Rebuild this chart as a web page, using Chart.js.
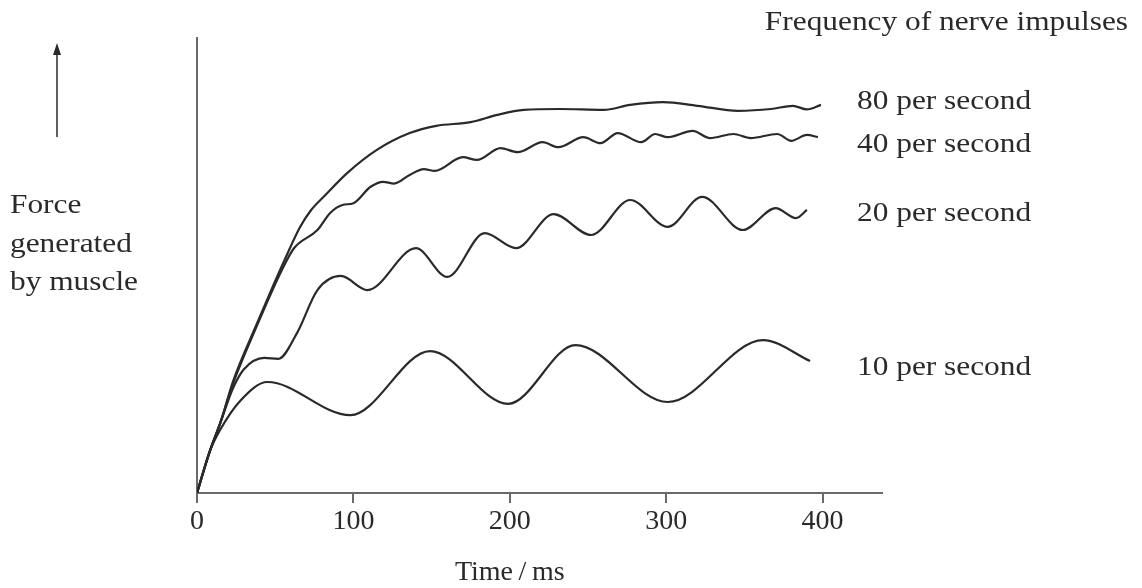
<!DOCTYPE html>
<html>
<head>
<meta charset="utf-8">
<script src="https://cdn.jsdelivr.net/npm/chart.js@4.4.1/dist/chart.umd.min.js"></script>
<style>
  html, body { margin: 0; padding: 0; background: #fff; }
</style>
</head>
<body>
<canvas id="chart" width="1142" height="588"></canvas>
<script>
// Force (arbitrary units, 0-100) against time (ms)
const t10 = [0, 8, 15, 28, 45, 98, 149, 199, 242, 301, 362, 392];
const f10 = [0, 9, 14, 20.4, 24.4, 17.1, 31.2, 19.6, 32.5, 20.0, 33.6, 29.0];

const t20 = [0, 8, 15, 23, 30, 43, 52, 64, 77, 92, 109, 140, 160, 184, 204, 228, 252, 277, 301, 323, 349, 370, 383, 390];
const f20 = [0, 9, 15.5, 23, 27.2, 29.7, 29.5, 35.2, 44.6, 47.7, 44.6, 53.8, 47.5, 57.1, 53.8, 61.3, 56.7, 64.4, 58.5, 65.1, 57.8, 62.6, 60.4, 62.2];

const t40 = [0, 8, 15, 23, 38, 48, 55, 62, 77, 85, 93, 100, 111, 119, 126, 136, 145, 152, 170, 179, 194, 205, 221, 231, 247, 258, 269, 284, 293, 301, 317, 328, 343, 354, 371, 380, 390, 397];
const f40 = [0, 9, 15.5, 24, 36.5, 44.4, 49.5, 53.8, 57.8, 61.5, 63.3, 63.7, 67.3, 68.4, 68.0, 69.9, 71.2, 70.8, 73.8, 73.2, 75.8, 74.9, 77.1, 76.0, 78.2, 76.9, 79.1, 77.1, 78.9, 78.2, 79.6, 78.0, 78.9, 78.0, 78.9, 77.4, 78.7, 78.2];

const t80 = [0, 8, 15, 23, 38, 48, 56, 66, 73, 81, 96, 115, 136, 153, 175, 192, 209, 232, 260, 277, 298, 320, 346, 367, 381, 390, 399];
const f80 = [0, 9, 15.5, 24.5, 37, 45, 51.2, 58.5, 62.2, 65.1, 70.3, 75.4, 79.1, 80.7, 81.5, 83.1, 84.2, 84.4, 84.2, 85.3, 85.9, 85.1, 84.0, 84.4, 85.1, 84.3, 85.3];

const seriesNames = ['80 per second', '40 per second', '20 per second', '10 per second'];
const xTicks = [0, 100, 200, 300, 400];

const INK = '#2a2a2a';
const AXIS = '#6a6a6a';
const SERIF = '"Liberation Serif", "Times New Roman", serif';
const STRETCH = 1.12; // the scanned lettering is a bit wider than Times

function pts(ts, fs) {
    return ts.map((t, i) => ({ x: t, y: fs[i] }));
}

function drawText(ctx, text, x, y, align) {
    ctx.save();
    ctx.translate(x, y);
    ctx.scale(STRETCH, 1);
    ctx.textAlign = align || 'left';
    ctx.textBaseline = 'alphabetic';
    ctx.fillText(text, 0, 0);
    ctx.restore();
}

const annotations = {
    id: 'annotations',
    afterDraw(chart) {
        const { ctx, chartArea, scales: { x, y } } = chart;
        ctx.save();
        ctx.fillStyle = INK;
        ctx.font = `28px ${SERIF}`;

        // curve labels, next to where each curve ends
        const nudge = [4, 15, 11, 14];
        chart.data.datasets.forEach((ds, i) => {
            const last = ds.data[ds.data.length - 1];
            drawText(ctx, ds.label, chartArea.right - 25, y.getPixelForValue(last.y) + nudge[i]);
        });

        drawText(ctx, 'Frequency of nerve impulses', 1128, 30, 'right');

        // y-axis caption and arrow
        drawText(ctx, 'Force', 10, 213);
        drawText(ctx, 'generated', 10, 252);
        drawText(ctx, 'by muscle', 10, 290);

        ctx.strokeStyle = INK;
        ctx.lineWidth = 1.5;
        ctx.beginPath();
        ctx.moveTo(57, 137);
        ctx.lineTo(57, 52);
        ctx.stroke();
        ctx.beginPath();
        ctx.moveTo(57, 43);
        ctx.lineTo(53, 55);
        ctx.lineTo(61, 55);
        ctx.closePath();
        ctx.fill();

        // x-axis title, centred under the 200 ms tick
        ctx.textAlign = 'center';
        ctx.textBaseline = 'alphabetic';
        ctx.fillText('Time\u2009/\u2009ms', x.getPixelForValue(200), 580);
        ctx.restore();
    }
};

const series = [pts(t80, f80), pts(t40, f40), pts(t20, f20), pts(t10, f10)];

new Chart(document.getElementById('chart'), {
    type: 'line',
    data: {
        datasets: series.map((data, i) => ({
            label: seriesNames[i],
            data: data,
            borderColor: INK,
            borderWidth: 2.2,
            pointRadius: 0,
            fill: false,
            cubicInterpolationMode: 'monotone'
        }))
    },
    options: {
        responsive: false,
        animation: false,
        devicePixelRatio: 1,
        layout: { padding: { left: 197, right: 260, top: 38, bottom: 0 } },
        plugins: {
            legend: { display: false },
            tooltip: { enabled: false }
        },
        scales: {
            x: {
                type: 'linear',
                min: 0,
                max: 438,
                afterBuildTicks: (axis) => { axis.ticks = xTicks.map(v => ({ value: v })); },
                afterFit: (axis) => { axis.height = 95; },
                ticks: {
                    color: INK,
                    font: { family: SERIF, size: 28 },
                    padding: 2,
                    maxRotation: 0,
                    autoSkip: false
                },
                grid: {
                    drawOnChartArea: false,
                    drawTicks: true,
                    tickLength: 10,
                    color: AXIS,
                    lineWidth: 2
                },
                border: { display: true, color: AXIS, width: 2 }
            },
            y: {
                type: 'linear',
                min: 0,
                max: 100,
                afterFit: (axis) => { axis.width = 0; },
                ticks: { display: false },
                grid: { drawOnChartArea: false, drawTicks: false },
                border: { display: true, color: AXIS, width: 2 }
            }
        }
    },
    plugins: [annotations]
});
</script>
</body>
</html>
